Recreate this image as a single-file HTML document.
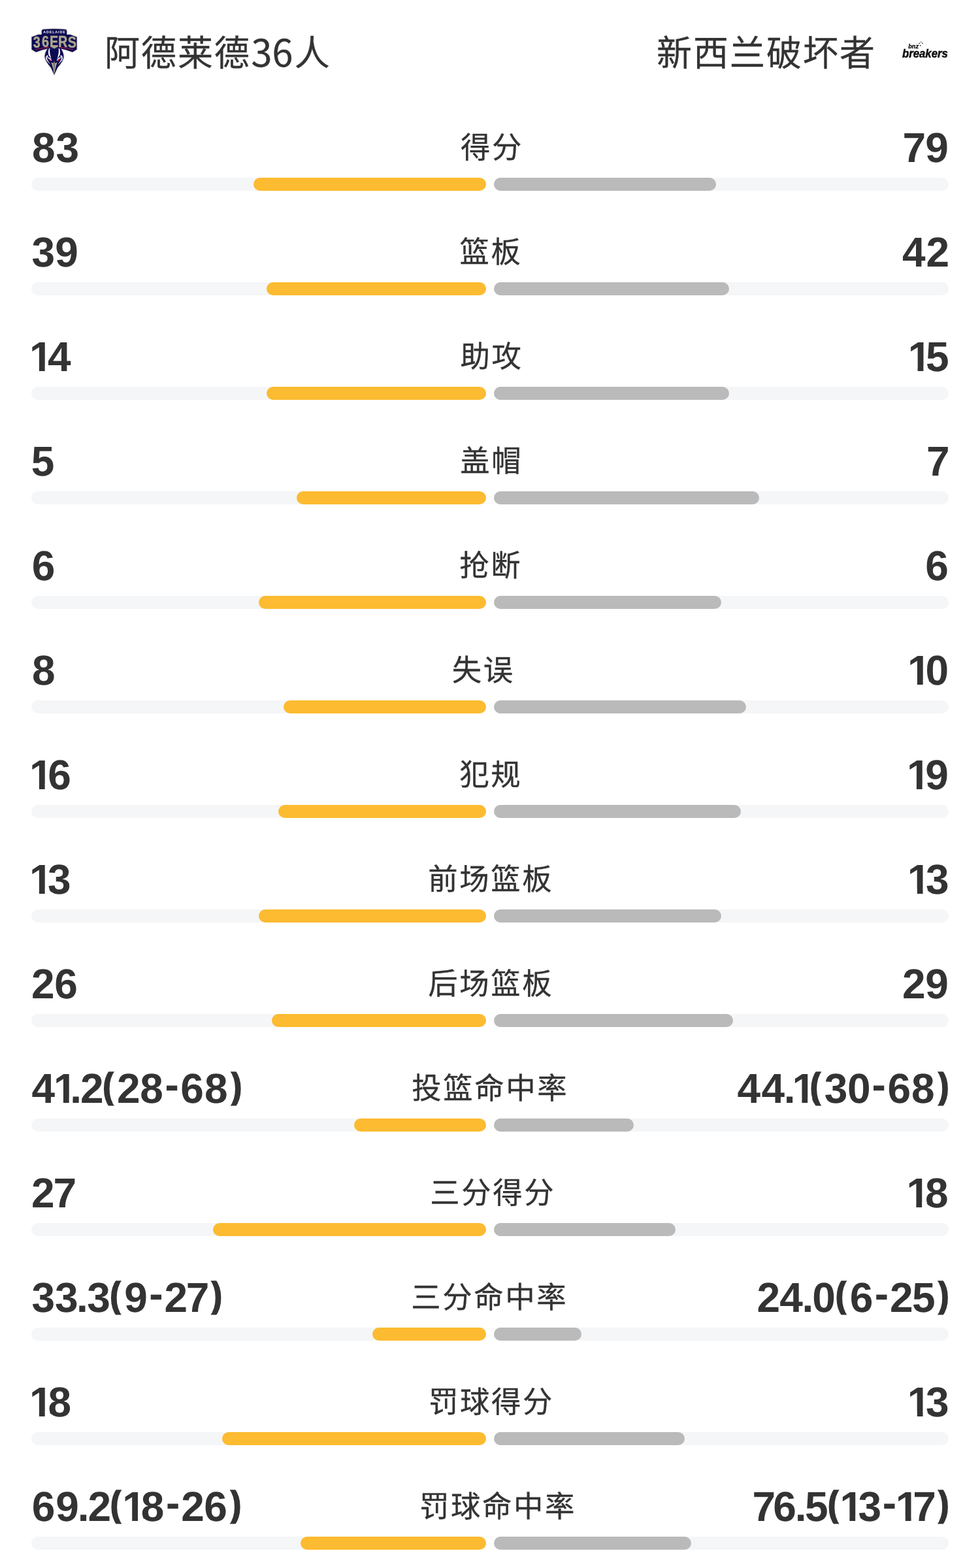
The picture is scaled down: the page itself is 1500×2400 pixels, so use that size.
<!DOCTYPE html>
<html lang="zh-CN">
<head>
<meta charset="utf-8">
<style>
*{margin:0;padding:0;box-sizing:border-box}
html,body{width:1500px;height:2400px;background:#fff;overflow:hidden}
body{font-family:"Liberation Sans","Noto Sans CJK SC",sans-serif;color:#333;position:relative}
.hd{position:absolute;left:0;top:0;width:1500px;height:160px}
.hd .name{position:absolute;top:41px;height:82px;line-height:82px;font-size:54px;letter-spacing:2px;white-space:nowrap;color:#333;-webkit-text-stroke:.3px #333}
.hd .n1{left:160px}
.hd .n2{right:159px;text-align:right}
.hd .d{font-family:"Noto Sans CJK SC",sans-serif;font-size:57.5px;letter-spacing:0;line-height:1;position:relative;top:1px;margin:0 2.5px 0 0.5px}
.hd svg{position:absolute;display:block;overflow:visible}
.lg1{left:43px;top:40px}
.lg2{left:1376px;top:56px}
.row{position:relative;height:160px;width:1500px}
.rows{position:absolute;top:160px;left:0;width:1500px}
.n{position:absolute;top:0;display:block;overflow:visible}
.nl{left:0}.nr{left:750px}
.n text{font-family:"Liberation Sans",sans-serif;font-weight:700;font-size:64px;fill:#333;text-rendering:geometricPrecision}
.n .c{fill:#fff}
.lab{position:absolute;width:800px;top:31px;height:72px;line-height:72px;text-align:center;font-size:45.4px;letter-spacing:2.6px;text-indent:2.6px;color:#333;white-space:nowrap;-webkit-text-stroke:.3px #333}
.tk{position:absolute;top:112px;height:20px;width:696px;border-radius:10px;background:#f5f6f8}
.tk i{position:absolute;top:0;height:20px;border-radius:10px;display:block}
.tl{left:48px}.tl i{right:0;background:#fcbb30}
.tr{left:756px}.tr i{left:0;background:#bababa}
</style>
</head>
<body>
<div class="hd">
  <svg class="lg1" width="80" height="80" viewBox="0 0 1500 1500">
<g fill="#b9b49b" opacity=".5">
<path d="M750 1440 L640 1200 Q470 1010 455 880 Q455 770 540 640 L960 640 Q1045 770 1045 880 Q1030 1010 860 1200 Z"/>
<path d="M370 250 L370 135 Q375 75 440 72 Q750 48 1060 72 Q1125 75 1130 135 L1130 228 L1215 226 L1415 300 L1415 680 L1275 765 Q1100 690 950 668 L550 668 Q400 690 225 765 L85 680 L85 300 L285 226 L370 228 Z"/>
</g>
<path fill="#0c0a52" d="M390 245 L390 140 Q393 95 440 92 Q750 68 1060 92 Q1107 95 1110 140 L1110 245 L1210 243 L1397 312 L1397 668 L1272 745 Q1090 670 940 648 L560 648 Q410 670 228 745 L103 668 L103 312 L290 243 Z"/>
<path fill="#0c0a52" d="M750 1395 L655 1190 Q490 1000 478 880 Q478 770 560 640 L940 640 Q1022 770 1022 880 Q1010 1000 845 1190 Z"/>
<text x="750" y="212" text-anchor="middle" textLength="630" lengthAdjust="spacing" font-family="Liberation Sans, sans-serif" font-weight="700" font-size="100" fill="#f1f1f8">ADELAIDE</text>
<text transform="scale(0.8 1)" x="182 494 774 1077 1426" y="612 602 592 602 612" font-family="Liberation Sans, sans-serif" font-weight="700" font-size="462" fill="#aca78e" stroke="#aca78e" stroke-width="9">36ERS</text>
<path fill="#aca78e" d="M672 580 L828 580 L828 598 L750 648 L672 598 Z"/>
<path fill="none" stroke="#d11a3c" stroke-width="17" stroke-linecap="round" d="M205 670 Q400 628 595 607 M1295 670 Q1100 628 905 607"/>
<path fill="#fff" d="M600 640 Q560 760 600 850 Q640 900 672 960 Q640 860 628 790 Q612 720 625 640 Z M900 640 Q940 760 900 850 Q860 900 828 960 Q860 860 872 790 Q888 720 875 640 Z"/>
<path fill="#d9d9ee" d="M560 830 Q500 850 505 930 Q520 1000 650 1110 Q560 990 545 930 Q540 880 585 865 Z M940 830 Q1000 850 995 930 Q980 1000 850 1110 Q940 990 955 930 Q960 880 915 865 Z"/>
<path fill="#fff" d="M552 905 Q600 880 655 940 Q690 985 680 1010 Q640 950 600 935 Q570 925 552 905 Z M948 905 Q900 880 845 940 Q810 985 820 1010 Q860 950 900 935 Q930 925 948 905 Z"/>
<path fill="#d11a3c" d="M585 935 Q625 940 650 985 Q655 1005 640 1005 Q600 1000 585 935 Z M915 935 Q875 940 850 985 Q845 1005 860 1005 Q900 1000 915 935 Z"/>
<path fill="#aca78e" d="M750 995 L732 1065 L662 1040 Q705 1150 750 1385 Q795 1150 838 1040 L768 1065 Z"/>
<path fill="#0c0a52" d="M742 1065 L758 1065 L753 1280 L747 1280 Z"/>
</svg>
  <div class="name n1">阿德莱德<span class="d">36</span>人</div>
  <div class="name n2">新西兰破坏者</div>
  <svg class="lg2" width="80" height="40" viewBox="0 0 1500 750">
<g font-family="Liberation Sans, sans-serif" font-weight="700" font-style="italic" fill="#101010">
<text x="268" y="345" textLength="295" lengthAdjust="spacingAndGlyphs" font-size="185" stroke="#101010" stroke-width="6">bnz</text>
<text x="92" y="595" textLength="1312" lengthAdjust="spacingAndGlyphs" font-size="335" stroke="#101010" stroke-width="10">breakers</text>
</g>
<g fill="#2a2a2a"><circle cx="582" cy="193" r="17"/><circle cx="632" cy="156" r="15"/><circle cx="674" cy="193" r="16"/><circle cx="612" cy="256" r="17"/></g>
</svg>
</div>
<div class="rows">
<div class="row">
<svg class="n nl" width="750" height="110" viewBox="0 0 750 110"><text x="48.92 85.53" y="88">83</text></svg>
<div class="lab" style="left:351.65px">得分</div>
<svg class="n nr" width="750" height="110" viewBox="0 0 750 110"><text x="631.58 666.23" y="88">79</text></svg>
<div class="tk tl"><i style="width:356px"></i></div><div class="tk tr"><i style="width:340px"></i></div>
</div>
<div class="row">
<svg class="n nl" width="750" height="110" viewBox="0 0 750 110"><text x="48.53 84.33" y="88">39</text></svg>
<div class="lab" style="left:350.3px">篮板</div>
<svg class="n nr" width="750" height="110" viewBox="0 0 750 110"><text x="630.89 667.58" y="88">42</text></svg>
<div class="tk tl"><i style="width:336px"></i></div><div class="tk tr"><i style="width:360px"></i></div>
</div>
<div class="row">
<svg class="n nl" width="750" height="110" viewBox="0 0 750 110"><text x="44.95 72.89" y="88">14</text><path class="c" d="M47.78 80.47H59.89V89.2H47.78ZM68.67 80.47L79.97 80.47L79.97 89.2L68.67 89.2Z"/></svg>
<div class="lab" style="left:351.1px">助攻</div>
<svg class="n nr" width="750" height="110" viewBox="0 0 750 110"><text x="639.65 666.91" y="88">15</text><path class="c" d="M642.48 80.47H654.59V89.2H642.48ZM663.37 80.47L669.31 80.47L670.43 82.89L671.56 84.35L672.56 85.32L672.93 85.8L674.43 86.77L674.67 87.26L674.67 89.2L663.37 89.2Z"/></svg>
<div class="tk tl"><i style="width:336px"></i></div><div class="tk tr"><i style="width:360px"></i></div>
</div>
<div class="row">
<svg class="n nl" width="750" height="110" viewBox="0 0 750 110"><text x="47.71" y="88">5</text></svg>
<div class="lab" style="left:351px">盖帽</div>
<svg class="n nr" width="750" height="110" viewBox="0 0 750 110"><text x="668.08" y="88">7</text></svg>
<div class="tk tl"><i style="width:290px"></i></div><div class="tk tr"><i style="width:406px"></i></div>
</div>
<div class="row">
<svg class="n nl" width="750" height="110" viewBox="0 0 750 110"><text x="48.74" y="88">6</text></svg>
<div class="lab" style="left:350px">抢断</div>
<svg class="n nr" width="750" height="110" viewBox="0 0 750 110"><text x="666.24" y="88">6</text></svg>
<div class="tk tl"><i style="width:348px"></i></div><div class="tk tr"><i style="width:348px"></i></div>
</div>
<div class="row">
<svg class="n nl" width="750" height="110" viewBox="0 0 750 110"><text x="48.92" y="88">8</text></svg>
<div class="lab" style="left:338.5px">失误</div>
<svg class="n nr" width="750" height="110" viewBox="0 0 750 110"><text x="638.95 666.5" y="88">10</text><path class="c" d="M641.78 80.47H653.89V89.2H641.78ZM662.67 80.47L670.9 80.47L671.4 81.44L671.77 82.41L673.97 85.32L673.97 89.2L662.67 89.2Z"/></svg>
<div class="tk tl"><i style="width:310px"></i></div><div class="tk tr"><i style="width:386px"></i></div>
</div>
<div class="row">
<svg class="n nl" width="750" height="110" viewBox="0 0 750 110"><text x="44.95 73.24" y="88">16</text><path class="c" d="M47.78 80.47H59.89V89.2H47.78ZM68.67 80.47L77.51 80.47L78.51 82.41L79.51 83.86L79.97 84.35L79.97 89.2L68.67 89.2Z"/></svg>
<div class="lab" style="left:350px">犯规</div>
<svg class="n nr" width="750" height="110" viewBox="0 0 750 110"><text x="637.95 666.23" y="88">19</text><path class="c" d="M640.78 80.47H652.89V89.2H640.78ZM661.67 80.47L669.38 80.47L670.38 82.89L672.51 85.8L672.97 86.29L672.97 89.2L661.67 89.2Z"/></svg>
<div class="tk tl"><i style="width:318px"></i></div><div class="tk tr"><i style="width:378px"></i></div>
</div>
<div class="row">
<svg class="n nl" width="750" height="110" viewBox="0 0 750 110"><text x="44.95 73.03" y="88">13</text><path class="c" d="M47.78 80.47H59.89V89.2H47.78ZM68.67 80.47L75.05 80.47L75.93 82.41L76.93 83.86L78.8 85.8L79.97 86.77L79.97 89.2L68.67 89.2Z"/></svg>
<div class="lab" style="left:350px">前场篮板</div>
<svg class="n nr" width="750" height="110" viewBox="0 0 750 110"><text x="638.85 666.93" y="88">13</text><path class="c" d="M641.68 80.47H653.79V89.2H641.68ZM662.57 80.47L668.95 80.47L669.83 82.41L670.83 83.86L672.7 85.8L673.87 86.77L673.87 89.2L662.57 89.2Z"/></svg>
<div class="tk tl"><i style="width:348px"></i></div><div class="tk tr"><i style="width:348px"></i></div>
</div>
<div class="row">
<svg class="n nl" width="750" height="110" viewBox="0 0 750 110"><text x="48.08 83.24" y="88">26</text></svg>
<div class="lab" style="left:350px">后场篮板</div>
<svg class="n nr" width="750" height="110" viewBox="0 0 750 110"><text x="631.08 666.23" y="88">29</text></svg>
<div class="tk tl"><i style="width:328px"></i></div><div class="tk tr"><i style="width:366px"></i></div>
</div>
<div class="row">
<svg class="n nl" width="750" height="110" viewBox="0 0 750 110"><text x="48.39 81.95 107.24 123.07 155.83 178.88 214.22 252.38 276.34 313.02 350.56" y="88 88 88 88 83 88 88 81.9 88 88 83">41.2(28-68)</text><path class="c" d="M84.78 80.47H96.89V89.2H84.78ZM105.67 80.47L111.44 80.47L111.44 88.23L116.97 88.71L116.97 89.2L105.67 89.2ZM157.52 35.12H178.58V40.2H157.52ZM157.52 92.6H178.58V97.78H157.52ZM349.12 35.12H370.18V40.2H349.12ZM349.12 92.6H370.18V97.78H349.12Z"/></svg>
<div class="lab" style="left:348.95px">投篮命中率</div>
<svg class="n nr" width="750" height="110" viewBox="0 0 750 110"><text x="378.39 415.39 449.74 462.45 488.33 511.83 546.9 584.47 608.44 645.12 682.66" y="88 88 88 88 83 88 88 81.9 88 88 83">44.1(30-68)</text><path class="c" d="M465.28 80.47H477.39V89.2H465.28ZM486.17 80.47L492.73 80.47L493.36 82.89L495.98 89.2L486.17 89.2ZM490.02 35.12H511.08V40.2H490.02ZM490.02 92.6H511.08V97.78H490.02ZM681.22 35.12H702.28V40.2H681.22ZM681.22 92.6H702.28V97.78H681.22Z"/></svg>
<div class="tk tl"><i style="width:202px"></i></div><div class="tk tr"><i style="width:214px"></i></div>
</div>
<div class="row">
<svg class="n nl" width="750" height="110" viewBox="0 0 750 110"><text x="48.08 81.38" y="88">27</text></svg>
<div class="lab" style="left:352.9px">三分得分</div>
<svg class="n nr" width="750" height="110" viewBox="0 0 750 110"><text x="637.45 665.92" y="88">18</text><path class="c" d="M640.28 80.47H652.39V89.2H640.28ZM661.17 80.47L668.2 80.47L668.95 82.41L670.32 84.35L671.82 85.8L672.45 86.29L672.47 89.2L661.17 89.2Z"/></svg>
<div class="tk tl"><i style="width:418px"></i></div><div class="tk tr"><i style="width:278px"></i></div>
</div>
<div class="row">
<svg class="n nl" width="750" height="110" viewBox="0 0 750 110"><text x="48.53 84.12 116.94 133.22 166.63 190.33 228.17 251.48 284.78 320.16" y="88 88 88 88 83 88 81.9 88 88 83">33.3(9-27)</text><path class="c" d="M168.32 35.12H189.38V40.2H168.32ZM168.32 92.6H189.38V97.78H168.32ZM318.72 35.12H339.78V40.2H318.72ZM318.72 92.6H339.78V97.78H318.72Z"/></svg>
<div class="lab" style="left:347.9px">三分命中率</div>
<svg class="n nr" width="750" height="110" viewBox="0 0 750 110"><text x="408.38 443.19 477.54 493.3 527.13 550.84 588.67 611.97 646.11 682.66" y="88 88 88 88 83 88 81.9 88 88 83">24.0(6-25)</text><path class="c" d="M528.82 35.12H549.88V40.2H528.82ZM528.82 92.6H549.88V97.78H528.82ZM681.22 35.12H702.28V40.2H681.22ZM681.22 92.6H702.28V97.78H681.22Z"/></svg>
<div class="tk tl"><i style="width:174px"></i></div><div class="tk tr"><i style="width:134px"></i></div>
</div>
<div class="row">
<svg class="n nl" width="750" height="110" viewBox="0 0 750 110"><text x="44.95 73.42" y="88">18</text><path class="c" d="M47.78 80.47H59.89V89.2H47.78ZM68.67 80.47L75.7 80.47L76.45 82.41L77.82 84.35L79.32 85.8L79.95 86.29L79.97 89.2L68.67 89.2Z"/></svg>
<div class="lab" style="left:350.7px">罚球得分</div>
<svg class="n nr" width="750" height="110" viewBox="0 0 750 110"><text x="638.85 666.93" y="88">13</text><path class="c" d="M641.68 80.47H653.79V89.2H641.68ZM662.57 80.47L668.95 80.47L669.83 82.41L670.83 83.86L672.7 85.8L673.87 86.77L673.87 89.2L662.57 89.2Z"/></svg>
<div class="tk tl"><i style="width:404px"></i></div><div class="tk tr"><i style="width:292px"></i></div>
</div>
<div class="row">
<svg class="n nl" width="750" height="110" viewBox="0 0 750 110"><text x="48.74 85.23 118.74 134.57 167.33 187.25 215.72 253.88 277.18 312.34 349.56" y="88 88 88 88 83 88 88 81.9 88 88 83">69.2(18-26)</text><path class="c" d="M190.08 80.47H202.19V89.2H190.08ZM210.97 80.47L218 80.47L218.75 82.41L220.12 84.35L221.62 85.8L222.25 86.29L222.27 89.2L210.97 89.2ZM169.02 35.12H190.08V40.2H169.02ZM169.02 92.6H190.08V97.78H169.02ZM348.12 35.12H369.18V40.2H348.12ZM348.12 92.6H369.18V97.78H348.12Z"/></svg>
<div class="lab" style="left:360.8px">罚球命中率</div>
<svg class="n nr" width="750" height="110" viewBox="0 0 750 110"><text x="401.58 433.14 466.64 482.11 515.53 535.45 563.53 600.67 620.85 647.28 682.66" y="88 88 88 88 83 88 88 81.9 88 88 83">76.5(13-17)</text><path class="c" d="M538.28 80.47H550.39V89.2H538.28ZM559.17 80.47L565.55 80.47L566.43 82.41L567.43 83.86L569.3 85.8L570.47 86.77L570.47 89.2L559.17 89.2ZM623.68 80.47H635.79V89.2H623.68ZM644.57 80.47L655.87 80.47L655.87 89.2L644.57 89.2ZM517.22 35.12H538.28V40.2H517.22ZM517.22 92.6H538.28V97.78H517.22ZM681.22 35.12H702.28V40.2H681.22ZM681.22 92.6H702.28V97.78H681.22Z"/></svg>
<div class="tk tl"><i style="width:284px"></i></div><div class="tk tr"><i style="width:302px"></i></div>
</div>
</div>
</body>
</html>
